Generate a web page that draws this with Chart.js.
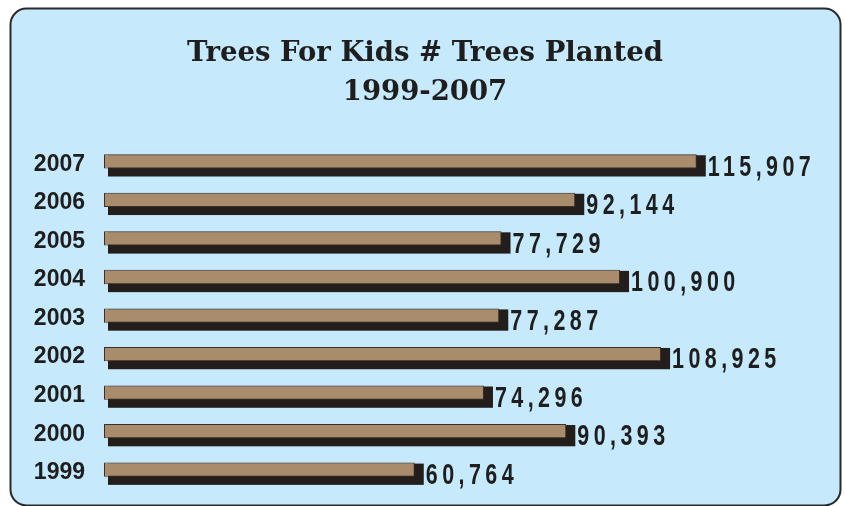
<!DOCTYPE html>
<html>
<head>
<meta charset="utf-8">
<script src="https://cdn.jsdelivr.net/npm/chart.js@4.4.1/dist/chart.umd.min.js"></script>
<style>
  html, body { margin: 0; padding: 0; background: #fff; }
  canvas { display: block; }
</style>
</head>
<body>
<canvas id="myChart" width="845" height="506"></canvas>
<script>
// data
const years = ['1999', '2000', '2001', '2002', '2003', '2004', '2005', '2006', '2007']
const treesPlanted = [60764, 90393, 74296, 108925, 77287, 100900, 77729, 92144, 115907]
const titleLines = ['Trees For Kids # Trees Planted', '1999-2007']

// rounded light blue panel behind everything
const panel = {
  id: 'panel',
  beforeDraw (chart) {
    const ctx = chart.ctx
    ctx.save()
    ctx.fillStyle = '#ffffff'
    ctx.fillRect(0, 0, chart.width, chart.height)
    ctx.beginPath()
    ctx.roundRect(10.5, 8.5, 830, 497, 16)
    ctx.fillStyle = '#c6e9fb'
    ctx.fill()
    ctx.lineWidth = 2
    ctx.strokeStyle = '#2a2a2a'
    ctx.stroke()
    ctx.restore()
  }
}

// dark block shadow under each bar
const barShadow = {
  id: 'barShadow',
  beforeDatasetsDraw (chart) {
    const ctx = chart.ctx
    ctx.save()
    ctx.fillStyle = '#231e1c'
    chart.getDatasetMeta(0).data.forEach(bar => {
      const { x, y, base, height } = bar.getProps(['x', 'y', 'base', 'height'], true)
      ctx.fillRect(base + 4, y - height / 2 + 1, x + 9 - (base + 4), height + 7)
    })
    ctx.restore()
  }
}

// numbers at the end of the bars
const valueLabels = {
  id: 'valueLabels',
  afterDatasetsDraw (chart) {
    const ctx = chart.ctx
    const values = chart.data.datasets[0].data
    ctx.save()
    ctx.fillStyle = '#1e1e1e'
    ctx.font = 'bold 29px "Liberation Sans", Arial, sans-serif'
    ctx.textBaseline = 'alphabetic'
    ctx.textAlign = 'left'
    ctx.letterSpacing = '6px'
    chart.getDatasetMeta(0).data.forEach((bar, i) => {
      const { x, y, height } = bar.getProps(['x', 'y', 'height'], true)
      ctx.save()
      ctx.translate(x + 11, y + height / 2 + 7)
      ctx.scale(0.74, 1)
      ctx.fillText(values[i].toLocaleString('en-US'), 0, 0)
      ctx.restore()
    })
    ctx.restore()
  }
}

const ctx = document.getElementById('myChart')
const myChart = new Chart(ctx, {
  type: 'bar',
  data: {
    labels: years,
    datasets: [{
      data: treesPlanted,
      backgroundColor: '#a88c6b',
      borderColor: '#3b2f27',
      borderWidth: 1,
      borderSkipped: false,
      barPercentage: 0.37,
      categoryPercentage: 1
    }]
  },
  options: {
    indexAxis: 'y',
    responsive: false,
    animation: false,
    devicePixelRatio: 1,
    layout: { padding: { left: 30, right: 25, top: 0, bottom: 17 } },
    scales: {
      x: { display: false, min: 0, max: 140000 },
      y: {
        reverse: true,
        border: { display: false },
        grid: { display: false, drawTicks: false },
        ticks: {
          padding: 19,
          labelOffset: 3,
          color: '#1e1e1e',
          font: { family: '"Liberation Sans", Arial, sans-serif', size: 23, weight: 'bold' }
        },
        afterFit (scale) {
          scale.width = 74
          // tick padding should only push labels sideways
          scale.paddingTop = 0
          scale.paddingBottom = 0
        }
      }
    },
    plugins: {
      legend: { display: false },
      tooltip: { enabled: false },
      title: {
        display: true,
        text: titleLines,
        color: '#1e1e1e',
        font: { family: '"DejaVu Serif", serif', size: 27.5, weight: 'bold', lineHeight: 1.42 },
        padding: { top: 34, bottom: 30 }
      }
    }
  },
  plugins: [panel, barShadow, valueLabels]
})
</script>
</body>
</html>
